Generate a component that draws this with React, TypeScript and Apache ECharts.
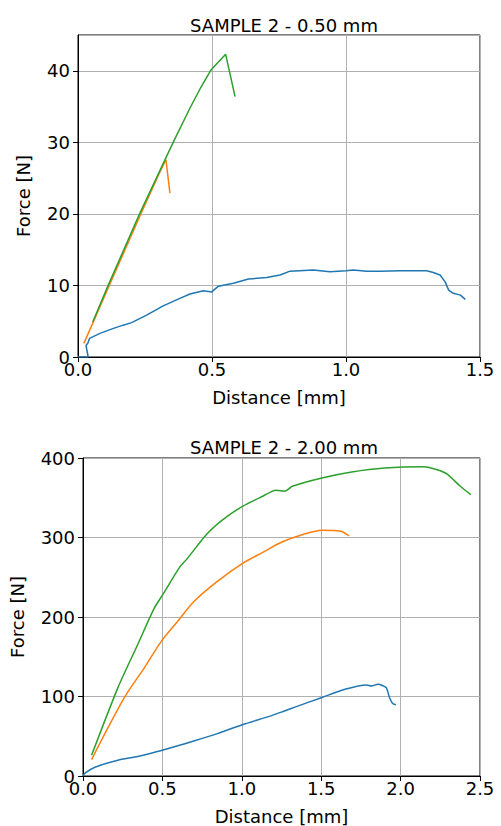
import React, { useEffect, useRef } from "react";
import * as echarts from "echarts";

const COLORS = ["#1f77b4", "#ff7f0e", "#2ca02c"];
const FONT = "DejaVu Sans";

const titles = ["SAMPLE 2 - 0.50 mm", "SAMPLE 2 - 2.00 mm"];
const xLabel = "Distance [mm]";
const yLabel = "Force [N]";

// Top panel (0.50 mm)
const topBlue = [
  [0, 0], [0.038, 0], [0.03, 1.6], [0.037, 1.95], [0.043, 2.6], [0.082, 3.3], [0.132, 4.0],
  [0.169, 4.45], [0.2, 4.8], [0.256, 5.85], [0.318, 7.15], [0.38, 8.2], [0.418, 8.8],
  [0.468, 9.25], [0.499, 9.1], [0.524, 9.9], [0.58, 10.3], [0.636, 10.9], [0.704, 11.1],
  [0.754, 11.45], [0.791, 12.0], [0.878, 12.15], [0.94, 11.9], [1.0, 12.05], [1.027, 12.15],
  [1.077, 12.0], [1.127, 12.0], [1.201, 12.05], [1.301, 12.05], [1.326, 11.8], [1.351, 11.45],
  [1.37, 10.5], [1.383, 9.35], [1.4, 8.9], [1.427, 8.65], [1.445, 8.05],
];
const topOrange = [
  [0.022, 1.9], [0.113, 9.7], [0.231, 19.7], [0.3, 25.4], [0.328, 27.6], [0.343, 22.9],
];
const topGreen = [
  [0.055, 4.9], [0.113, 10.05], [0.231, 20.1], [0.356, 30.06], [0.418, 34.8],
  [0.46, 37.8], [0.496, 40.1], [0.551, 42.3], [0.586, 36.4],
];

// Bottom panel (2.00 mm)
const botBlue = [
  [0, 0], [0.012, 3.5], [0.075, 11], [0.22, 19.9], [0.344, 24.5], [0.5, 32.4], [0.697, 44],
  [0.842, 53], [1.007, 64.8], [1.173, 75], [1.256, 80.9], [1.339, 87], [1.505, 98.8], [1.65, 109.1],
  [1.785, 114.6], [1.816, 113.3], [1.857, 115.3], [1.909, 111.2], [1.93, 98.8], [1.95, 91.3],
  [1.971, 89.7],
];
const botOrange = [
  [0.054, 20.7], [0.261, 98.8], [0.386, 136.1], [0.493, 169.4], [0.603, 196.3], [0.697, 219.2],
  [0.842, 244.1], [1.007, 267.7], [1.132, 281.4], [1.256, 294.6], [1.38, 303.5], [1.505, 309.2],
  [1.619, 308.3], [1.675, 302.1],
];
const botGreen = [
  [0.054, 26.1], [0.22, 111.2], [0.344, 165.1], [0.448, 210.8], [0.5, 227.4], [0.609, 262.8],
  [0.655, 273.1], [0.779, 304.2], [0.883, 322.9], [1.007, 339.5], [1.132, 351.9], [1.215, 359.4],
  [1.271, 358.2], [1.318, 364.4], [1.505, 374.8], [1.692, 382.3], [1.899, 387.3], [2.147, 388.9],
  [2.23, 385.2], [2.293, 379.8], [2.376, 364.4], [2.442, 354],
];

const topX = { min: 0, max: 1.5, interval: 0.5 };
const topY = { min: 0, max: 45, interval: 10 };
const botX = { min: 0, max: 2.5, interval: 0.5 };
const botY = { min: 0, max: 400, interval: 100 };

export default function App() {
  const ref = useRef<HTMLDivElement>(null);
  useEffect(() => {
    if (!ref.current) return;
    const chart = echarts.init(ref.current, undefined, { renderer: "svg" });
    const txt = { fontFamily: FONT, fontSize: 18, color: "#000" };
    const mkX = (idx: number, r: any, nameGap: number) => ({
      type: "value",
      gridIndex: idx,
      min: r.min,
      max: r.max,
      interval: r.interval,
      name: xLabel,
      nameLocation: "middle",
      nameGap,
      nameTextStyle: { ...txt },
      axisLine: { show: true, onZero: false, lineStyle: { color: "#000", width: 1 } },
      axisTick: { show: true, length: 5, lineStyle: { color: "#000", width: 1 } },
      axisLabel: { ...txt, margin: 3, formatter: (v: number) => v.toFixed(1) },
      splitLine: { show: true, lineStyle: { color: "#b0b0b0", width: 1 } },
    });
    const mkY = (idx: number, r: any, nameGap: number) => ({
      type: "value",
      gridIndex: idx,
      min: r.min,
      max: r.max,
      interval: r.interval,
      name: yLabel,
      nameLocation: "middle",
      nameGap,
      nameRotate: 90,
      nameTextStyle: { ...txt },
      axisLine: { show: true, onZero: false, lineStyle: { color: "#000", width: 1 } },
      axisTick: { show: true, length: 5, lineStyle: { color: "#000", width: 1 } },
      axisLabel: {
        ...txt,
        margin: 8,
        showMaxLabel: r.max % r.interval === 0,
        formatter: (v: number) => (v % r.interval === 0 ? String(v) : ""),
      },
      splitLine: { show: true, lineStyle: { color: "#b0b0b0", width: 1 } },
    });
    const line = (data: number[][], color: string, xi: number, smooth: number) => ({
      type: "line",
      xAxisIndex: xi,
      yAxisIndex: xi,
      data,
      showSymbol: false,
      symbol: "none",
      smooth,
      lineStyle: { color, width: 1.5 },
      itemStyle: { color },
      z: 3,
    });
    chart.setOption({
      animation: false,
      backgroundColor: "#fff",
      title: [
        { text: titles[0], left: 279, top: 11, textAlign: "center", textStyle: { ...txt, fontWeight: "normal" } },
        { text: titles[1], left: 279, top: 433, textAlign: "center", textStyle: { ...txt, fontWeight: "normal" } },
      ],
      grid: [
        { left: 78, top: 35, width: 402, height: 322, show: true, borderColor: "#000", borderWidth: 1, backgroundColor: "transparent" },
        { left: 78, top: 458, width: 402, height: 321, show: true, borderColor: "#000", borderWidth: 1, backgroundColor: "transparent" },
      ],
      xAxis: [mkX(0, topX, 31), mkX(1, botX, 31)],
      yAxis: [mkY(0, topY, 46), mkY(1, botY, 57)],
      series: [
        line(topBlue, COLORS[0], 0, 0),
        line(topOrange, COLORS[1], 0, 0),
        line(topGreen, COLORS[2], 0, 0),
        line(botBlue, COLORS[0], 1, 0.2),
        line(botOrange, COLORS[1], 1, 0.3),
        line(botGreen, COLORS[2], 1, 0.25),
      ],
    });
    return () => chart.dispose();
  }, []);
  return (
    <div
      ref={ref}
      style={{ position: "fixed", left: 0, top: 0, width: 501, height: 826, background: "#fff" }}
    />
  );
}
